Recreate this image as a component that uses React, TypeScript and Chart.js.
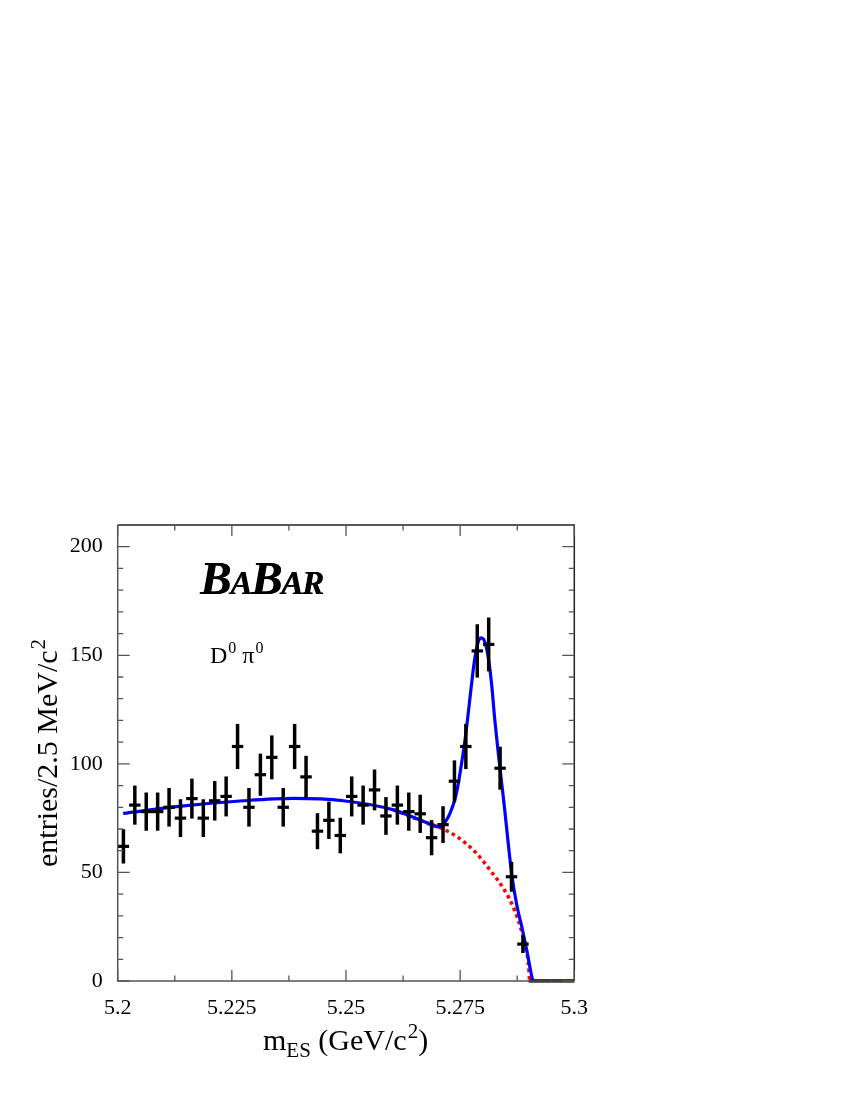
import React, { useEffect, useRef } from "react";
import { Chart, registerables } from "chart.js";

Chart.register(...registerables);

// ---- data ----
const binCenters = [
  5.20125, 5.20375, 5.20625, 5.20875, 5.21125, 5.21375, 5.21625, 5.21875, 5.22125, 5.22375,
  5.22625, 5.22875, 5.23125, 5.23375, 5.23625, 5.23875, 5.24125, 5.24375, 5.24625, 5.24875,
  5.25125, 5.25375, 5.25625, 5.25875, 5.26125, 5.26375, 5.26625, 5.26875, 5.27125, 5.27375,
  5.27625, 5.27875, 5.28125, 5.28375, 5.28625, 5.28875, 5.29125, 5.29375, 5.29625, 5.29875,
];
const counts = [
  62, 81, 78, 78, 80, 75, 84, 75, 83, 85,
  108, 80, 95, 103, 80, 108, 94, 69, 74, 67,
  85, 81, 88, 76, 81, 78, 77, 66, 72, 92,
  108, 152, 155, 98, 48, 17, 0, 0, 0, 0,
];
const errors = [
  7.9, 9.0, 8.8, 8.8, 8.9, 8.7, 9.2, 8.7, 9.1, 9.2,
  10.4, 8.9, 9.7, 10.1, 8.9, 10.4, 9.7, 8.3, 8.6, 8.2,
  9.2, 9.0, 9.4, 8.7, 9.0, 8.8, 8.8, 8.1, 8.5, 9.6,
  10.4, 12.3, 12.4, 9.9, 6.9, 4.1, 0, 0, 0, 0,
];

const fitX = [
  5.2012, 5.2129, 5.2275, 5.2385, 5.2494, 5.2604, 5.2673, 5.2702, 5.2713, 5.2724,
  5.2731, 5.2739, 5.2746, 5.2753, 5.276, 5.2767, 5.2774, 5.2781, 5.2788, 5.2795,
  5.2801, 5.2807, 5.2813, 5.2819, 5.2826, 5.2834, 5.2841, 5.2847, 5.2855, 5.2863,
  5.2874, 5.2885, 5.2896, 5.2907, 5.291, 5.3,
];
const fitY = [
  77.2, 80.3, 83, 84.1, 83, 78.8, 73.2, 71, 72.3, 75.5,
  79, 84, 91, 100, 110, 122, 135, 147, 155, 158,
  157.5, 154, 147, 136.5, 120, 104, 91, 80, 64, 49,
  35, 25, 14, 2, 0, 0,
];

const bkgX = [5.2604, 5.2673, 5.2702, 5.2745, 5.2782, 5.2818, 5.2847, 5.2869, 5.2884, 5.2895, 5.29, 5.2902];
const bkgY = [78.8, 73.2, 71, 66.2, 59.6, 50.4, 41.9, 32.7, 23.5, 14.3, 6.6, 0];

const xMajor = [5.2, 5.225, 5.25, 5.275, 5.3];
const xMajorLabels = ["5.2", "5.225", "5.25", "5.275", "5.3"];
const xMinor = [5.2125, 5.2375, 5.2625, 5.2875];
const yMajor = [0, 50, 100, 150, 200];
const yMajorLabels = ["0", "50", "100", "150", "200"];
const yMinor = [10, 20, 30, 40, 60, 70, 80, 90, 110, 120, 130, 140, 160, 170, 180, 190];

const SERIF = '"Liberation Serif", "Times New Roman", serif';

const overlayPlugin = {
  id: "rootStyle",
  afterDatasetsDraw(chart: any) {
    const ctx = chart.ctx;
    const xs = chart.scales.x;
    const ys = chart.scales.y;
    ctx.save();
    ctx.strokeStyle = "#000";
    ctx.lineWidth = 3.5;
    ctx.lineCap = "butt";
    for (let i = 0; i < counts.length; i++) {
      if (!errors[i]) continue;
      const px = xs.getPixelForValue(binCenters[i]);
      ctx.beginPath();
      ctx.moveTo(px, ys.getPixelForValue(counts[i] - errors[i]));
      ctx.lineTo(px, ys.getPixelForValue(counts[i] + errors[i]));
      ctx.stroke();
    }
    ctx.restore();
  },
  afterDraw(chart: any) {
    const ctx = chart.ctx;
    const xs = chart.scales.x;
    const ys = chart.scales.y;
    const a = chart.chartArea;
    ctx.save();
    // frame
    ctx.lineWidth = 1.5;
    ctx.strokeStyle = "#222";
    ctx.beginPath();
    ctx.moveTo(a.left, a.top);
    ctx.lineTo(a.right, a.top);
    ctx.lineTo(a.right, a.bottom);
    ctx.stroke();
    ctx.strokeStyle = "#555";
    ctx.beginPath();
    ctx.moveTo(a.left, a.top);
    ctx.lineTo(a.left, a.bottom);
    ctx.lineTo(a.right, a.bottom);
    ctx.stroke();
    // inward ticks
    ctx.strokeStyle = "#555";
    ctx.lineWidth = 1.3;
    const xt = (v: number, len: number) => {
      const p = xs.getPixelForValue(v);
      ctx.beginPath();
      ctx.moveTo(p, a.bottom);
      ctx.lineTo(p, a.bottom - len);
      ctx.moveTo(p, a.top);
      ctx.lineTo(p, a.top + len);
      ctx.stroke();
    };
    const yt = (v: number, len: number) => {
      const p = ys.getPixelForValue(v);
      ctx.beginPath();
      ctx.moveTo(a.left, p);
      ctx.lineTo(a.left + len, p);
      ctx.moveTo(a.right, p);
      ctx.lineTo(a.right - len, p);
      ctx.stroke();
    };
    xMajor.forEach((v) => xt(v, 11));
    xMinor.forEach((v) => xt(v, 5.5));
    yMajor.forEach((v) => yt(v, 12));
    yMinor.forEach((v) => yt(v, 5.5));

    ctx.fillStyle = "#000";
    ctx.textBaseline = "alphabetic";
    ctx.textAlign = "left";

    // BaBar logo
    const big = `italic bold 47px ${SERIF}`;
    const small = `italic bold 33px ${SERIF}`;
    let lx = 200;
    const ly = 594;
    const parts: [string, string][] = [["B", big], ["A", small], ["B", big], ["A", small], ["R", small]];
    parts.forEach(([t, f]) => {
      ctx.font = f;
      ctx.fillText(t, lx, ly);
      ctx.fillText(t, lx + 0.6, ly);
      lx += ctx.measureText(t).width - 1.2;
    });

    // D0 pi0
    let dx = 210;
    const dy = 663;
    ctx.font = `24px ${SERIF}`;
    ctx.fillText("D", dx, dy);
    dx += ctx.measureText("D").width;
    ctx.font = `16px ${SERIF}`;
    ctx.fillText("0", dx + 1, dy - 10);
    dx += ctx.measureText("0").width + 7;
    ctx.font = `24px ${SERIF}`;
    ctx.fillText("π", dx, dy);
    dx += ctx.measureText("π").width;
    ctx.font = `16px ${SERIF}`;
    ctx.fillText("0", dx + 1, dy - 10);

    // x title
    let tx = 263;
    const ty = 1050;
    ctx.font = `30px ${SERIF}`;
    ctx.fillText("m", tx, ty);
    tx += ctx.measureText("m").width;
    ctx.font = `21px ${SERIF}`;
    ctx.fillText("ES", tx, ty + 7);
    tx += ctx.measureText("ES").width;
    ctx.font = `30px ${SERIF}`;
    ctx.fillText(" (GeV/c", tx, ty);
    tx += ctx.measureText(" (GeV/c").width;
    ctx.font = `21px ${SERIF}`;
    ctx.fillText("2", tx + 1, ty - 12);
    tx += ctx.measureText("2").width + 1;
    ctx.font = `30px ${SERIF}`;
    ctx.fillText(")", tx, ty);

    // y title
    ctx.save();
    ctx.translate(56.5, 867);
    ctx.rotate(-Math.PI / 2);
    ctx.font = `30px ${SERIF}`;
    ctx.fillText("entries/2.5 MeV/c", 0, 0);
    const w = ctx.measureText("entries/2.5 MeV/c").width;
    ctx.font = `21px ${SERIF}`;
    ctx.fillText("2", w + 1, -12);
    ctx.restore();

    ctx.restore();
  },
};

export default function App() {
  const ref = useRef<HTMLCanvasElement | null>(null);
  useEffect(() => {
    if (!ref.current) return;
    const points = binCenters.map((x, i) => ({ x, y: counts[i] }));
    const fit = fitX.map((x, i) => ({ x, y: fitY[i] }));
    const bkg = bkgX.map((x, i) => ({ x, y: bkgY[i] }));
    const chart = new Chart(ref.current, {
      type: "scatter",
      data: {
        datasets: [
          {
            label: "data",
            data: points,
            pointStyle: "line",
            pointRadius: 5.7,
            pointHoverRadius: 5.7,
            pointBorderWidth: 3.2,
            pointBorderColor: "#000",
            pointBackgroundColor: "#000",
            borderColor: "#000",
            showLine: false,
            clip: false,
          } as any,
          {
            label: "fit",
            data: fit,
            showLine: true,
            borderColor: "#0000ff",
            borderWidth: 3.2,
            pointRadius: 0,
            cubicInterpolationMode: "monotone",
            fill: false,
          } as any,
          {
            label: "background",
            data: bkg,
            showLine: true,
            borderColor: "#ff0000",
            borderWidth: 3.5,
            borderDash: [3.5, 3.5],
            pointRadius: 0,
            cubicInterpolationMode: "monotone",
            fill: false,
          } as any,
        ],
      },
      options: {
        responsive: false,
        devicePixelRatio: 1,
        animation: false,
        layout: { padding: { left: 0, top: 525, right: 850 - 574.3, bottom: 0 } },
        plugins: { legend: { display: false }, tooltip: { enabled: false } },
        events: [],
        scales: {
          x: {
            type: "linear",
            min: 5.2,
            max: 5.3,
            grid: { display: false, drawTicks: false },
            border: { display: false },
            afterBuildTicks: (s: any) => {
              s.ticks = xMajor.map((v) => ({ value: v }));
            },
            afterFit: (s: any) => {
              s.height = 1100 - 981;
            },
            ticks: {
              padding: 14,
              maxRotation: 0,
              autoSkip: false,
              color: "#000",
              font: { family: SERIF, size: 22 },
              callback: (v: any) => {
                const i = xMajor.findIndex((m) => Math.abs(m - Number(v)) < 1e-9);
                return i >= 0 ? xMajorLabels[i] : "";
              },
            },
          },
          y: {
            type: "linear",
            min: 0,
            max: 210,
            grid: { display: false, drawTicks: false },
            border: { display: false },
            afterBuildTicks: (s: any) => {
              s.ticks = yMajor.map((v) => ({ value: v }));
            },
            afterFit: (s: any) => {
              s.width = 117.7;
            },
            ticks: {
              padding: 15,
              autoSkip: false,
              color: "#000",
              font: { family: SERIF, size: 22 },
              callback: (v: any) => {
                const i = yMajor.indexOf(Number(v));
                return i >= 0 ? yMajorLabels[i] : "";
              },
            },
          },
        },
      } as any,
      plugins: [overlayPlugin],
    });
    return () => chart.destroy();
  }, []);
  return (
    <div style={{ position: "absolute", left: 0, top: 0, width: 850, height: 1100, background: "#fff" }}>
      <canvas ref={ref} width={850} height={1100} style={{ width: 850, height: 1100, display: "block" }} />
    </div>
  );
}
